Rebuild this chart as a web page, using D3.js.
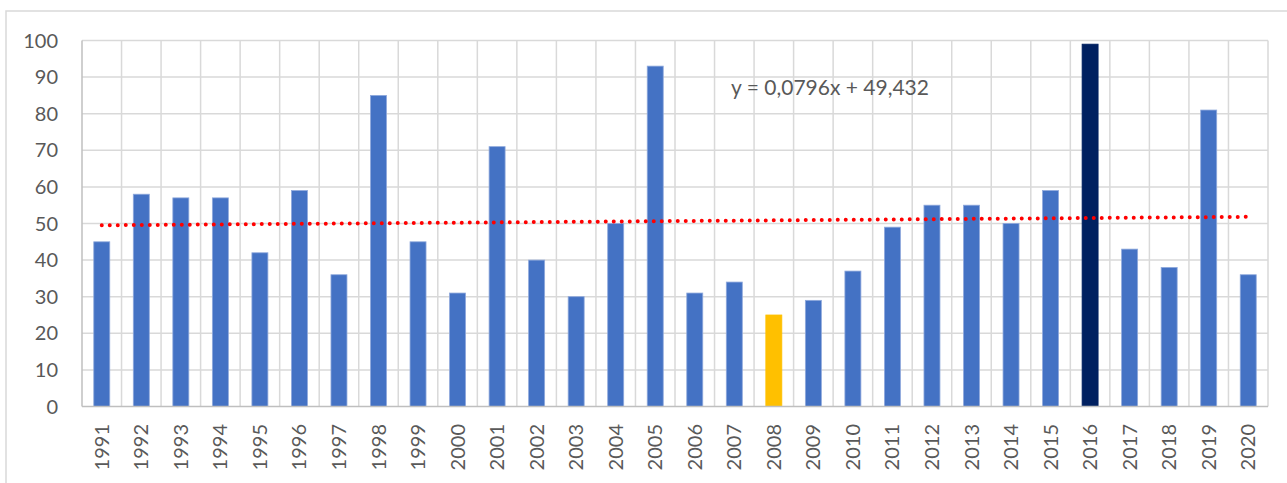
<!DOCTYPE html>
<meta charset="utf-8">
<style>
body { margin: 0; background: #fff; }
svg { font-family: Lato, "Open Sans", sans-serif; }
.tick-label { fill: #595959; font-size: 20px; }
.grid line { stroke: #d9d9d9; stroke-width: 1.5; }
.trend { stroke: #ff0000; stroke-width: 4; stroke-linecap: round; stroke-dasharray: 0 8; fill: none; }
</style>
<body>
<script src="https://cdn.jsdelivr.net/npm/d3@7"></script>
<script>

var years = d3.range(1991, 2021).map(String);
var values = [45, 58, 57, 57, 42, 59, 36, 85, 45, 31,
              71, 40, 30, 50, 93, 31, 34, 25, 29, 37,
              49, 55, 55, 50, 59, 99, 43, 38, 81, 36];
var yTicks = [0, 10, 20, 30, 40, 50, 60, 70, 80, 90, 100];
var trendSlope = 0.0796, trendIntercept = 49.432;
var trendLabel = "y = 0,0796x + 49,432";
var highlight = { "2008": "#ffc000", "2016": "#002060" };

var width = 1287, height = 483,
    plotLeft = 82, plotRight = 1268, plotTop = 40.5, plotBottom = 406.5;

var svg = d3.select("body").append("svg")
    .attr("width", width)
    .attr("height", height);

// outer chart border
svg.append("rect")
    .attr("x", 6).attr("y", 11)
    .attr("width", 1300).attr("height", 500)
    .attr("fill", "none")
    .attr("stroke", "#d9d9d9")
    .attr("stroke-width", 1.5);

var x = d3.scaleBand()
    .domain(years)
    .range([plotLeft, plotRight]);

var y = d3.scaleLinear()
    .domain([0, 100])
    .range([plotBottom, plotTop]);

var grid = svg.append("g").attr("class", "grid");

grid.selectAll(".hgrid")
    .data(yTicks.slice(1)).enter()
    .append("line")
    .attr("x1", plotLeft).attr("x2", plotRight)
    .attr("y1", d => y(d)).attr("y2", d => y(d));

grid.selectAll(".vgrid")
    .data(years.slice(1).concat(["end"])).enter()
    .append("line")
    .attr("x1", d => d === "end" ? plotRight : x(d))
    .attr("x2", d => d === "end" ? plotRight : x(d))
    .attr("y1", plotTop).attr("y2", plotBottom);

// axis line
svg.append("line")
    .attr("x1", plotLeft).attr("x2", plotLeft)
    .attr("y1", plotTop).attr("y2", plotBottom)
    .attr("stroke", "#bfbfbf").attr("stroke-width", 1.5);

var barW = 16;
svg.selectAll(".bar")
    .data(values).enter()
    .append("rect")
    .attr("class", "bar")
    .attr("x", (d, i) => x(years[i]) + x.bandwidth() / 2 - barW / 2)
    .attr("y", d => y(d))
    .attr("width", barW)
    .attr("height", d => plotBottom - y(d))
    .attr("fill", (d, i) => highlight[years[i]] || "#4472c4")
    .attr("stroke", (d, i) => highlight[years[i]] || "#8fa9dc")
    .attr("stroke-width", 0.8);

svg.append("line")
    .attr("x1", plotLeft).attr("x2", plotRight)
    .attr("y1", plotBottom).attr("y2", plotBottom)
    .attr("stroke", "#bfbfbf").attr("stroke-width", 1.5);

// y labels
svg.selectAll(".ylab")
    .data(yTicks).enter()
    .append("text")
    .attr("class", "tick-label")
    .attr("text-anchor", "end")
    .attr("x", 58)
    .attr("y", d => y(d) + 7)
    .text(d => d);

// x labels
svg.selectAll(".xlab")
    .data(years).enter()
    .append("text")
    .attr("class", "tick-label")
    .attr("text-anchor", "end")
    .attr("transform", d => "translate(" + (x(d) + x.bandwidth() / 2 + 7) + "," + 424 + ") rotate(-90)")
    .text(d => d);

// linear trendline
var trendPts = years.map((d, i) => [x(d) + x.bandwidth() / 2, y(trendSlope * (i + 1) + trendIntercept)]);
svg.append("path")
    .attr("class", "trend")
    .attr("d", d3.line()([trendPts[0], trendPts[trendPts.length - 1]]));

svg.append("text")
    .attr("class", "tick-label")
    .attr("text-anchor", "middle")
    .style("font-size", "21px")
    .attr("x", 830)
    .attr("y", 95)
    .text(trendLabel);

</script>
